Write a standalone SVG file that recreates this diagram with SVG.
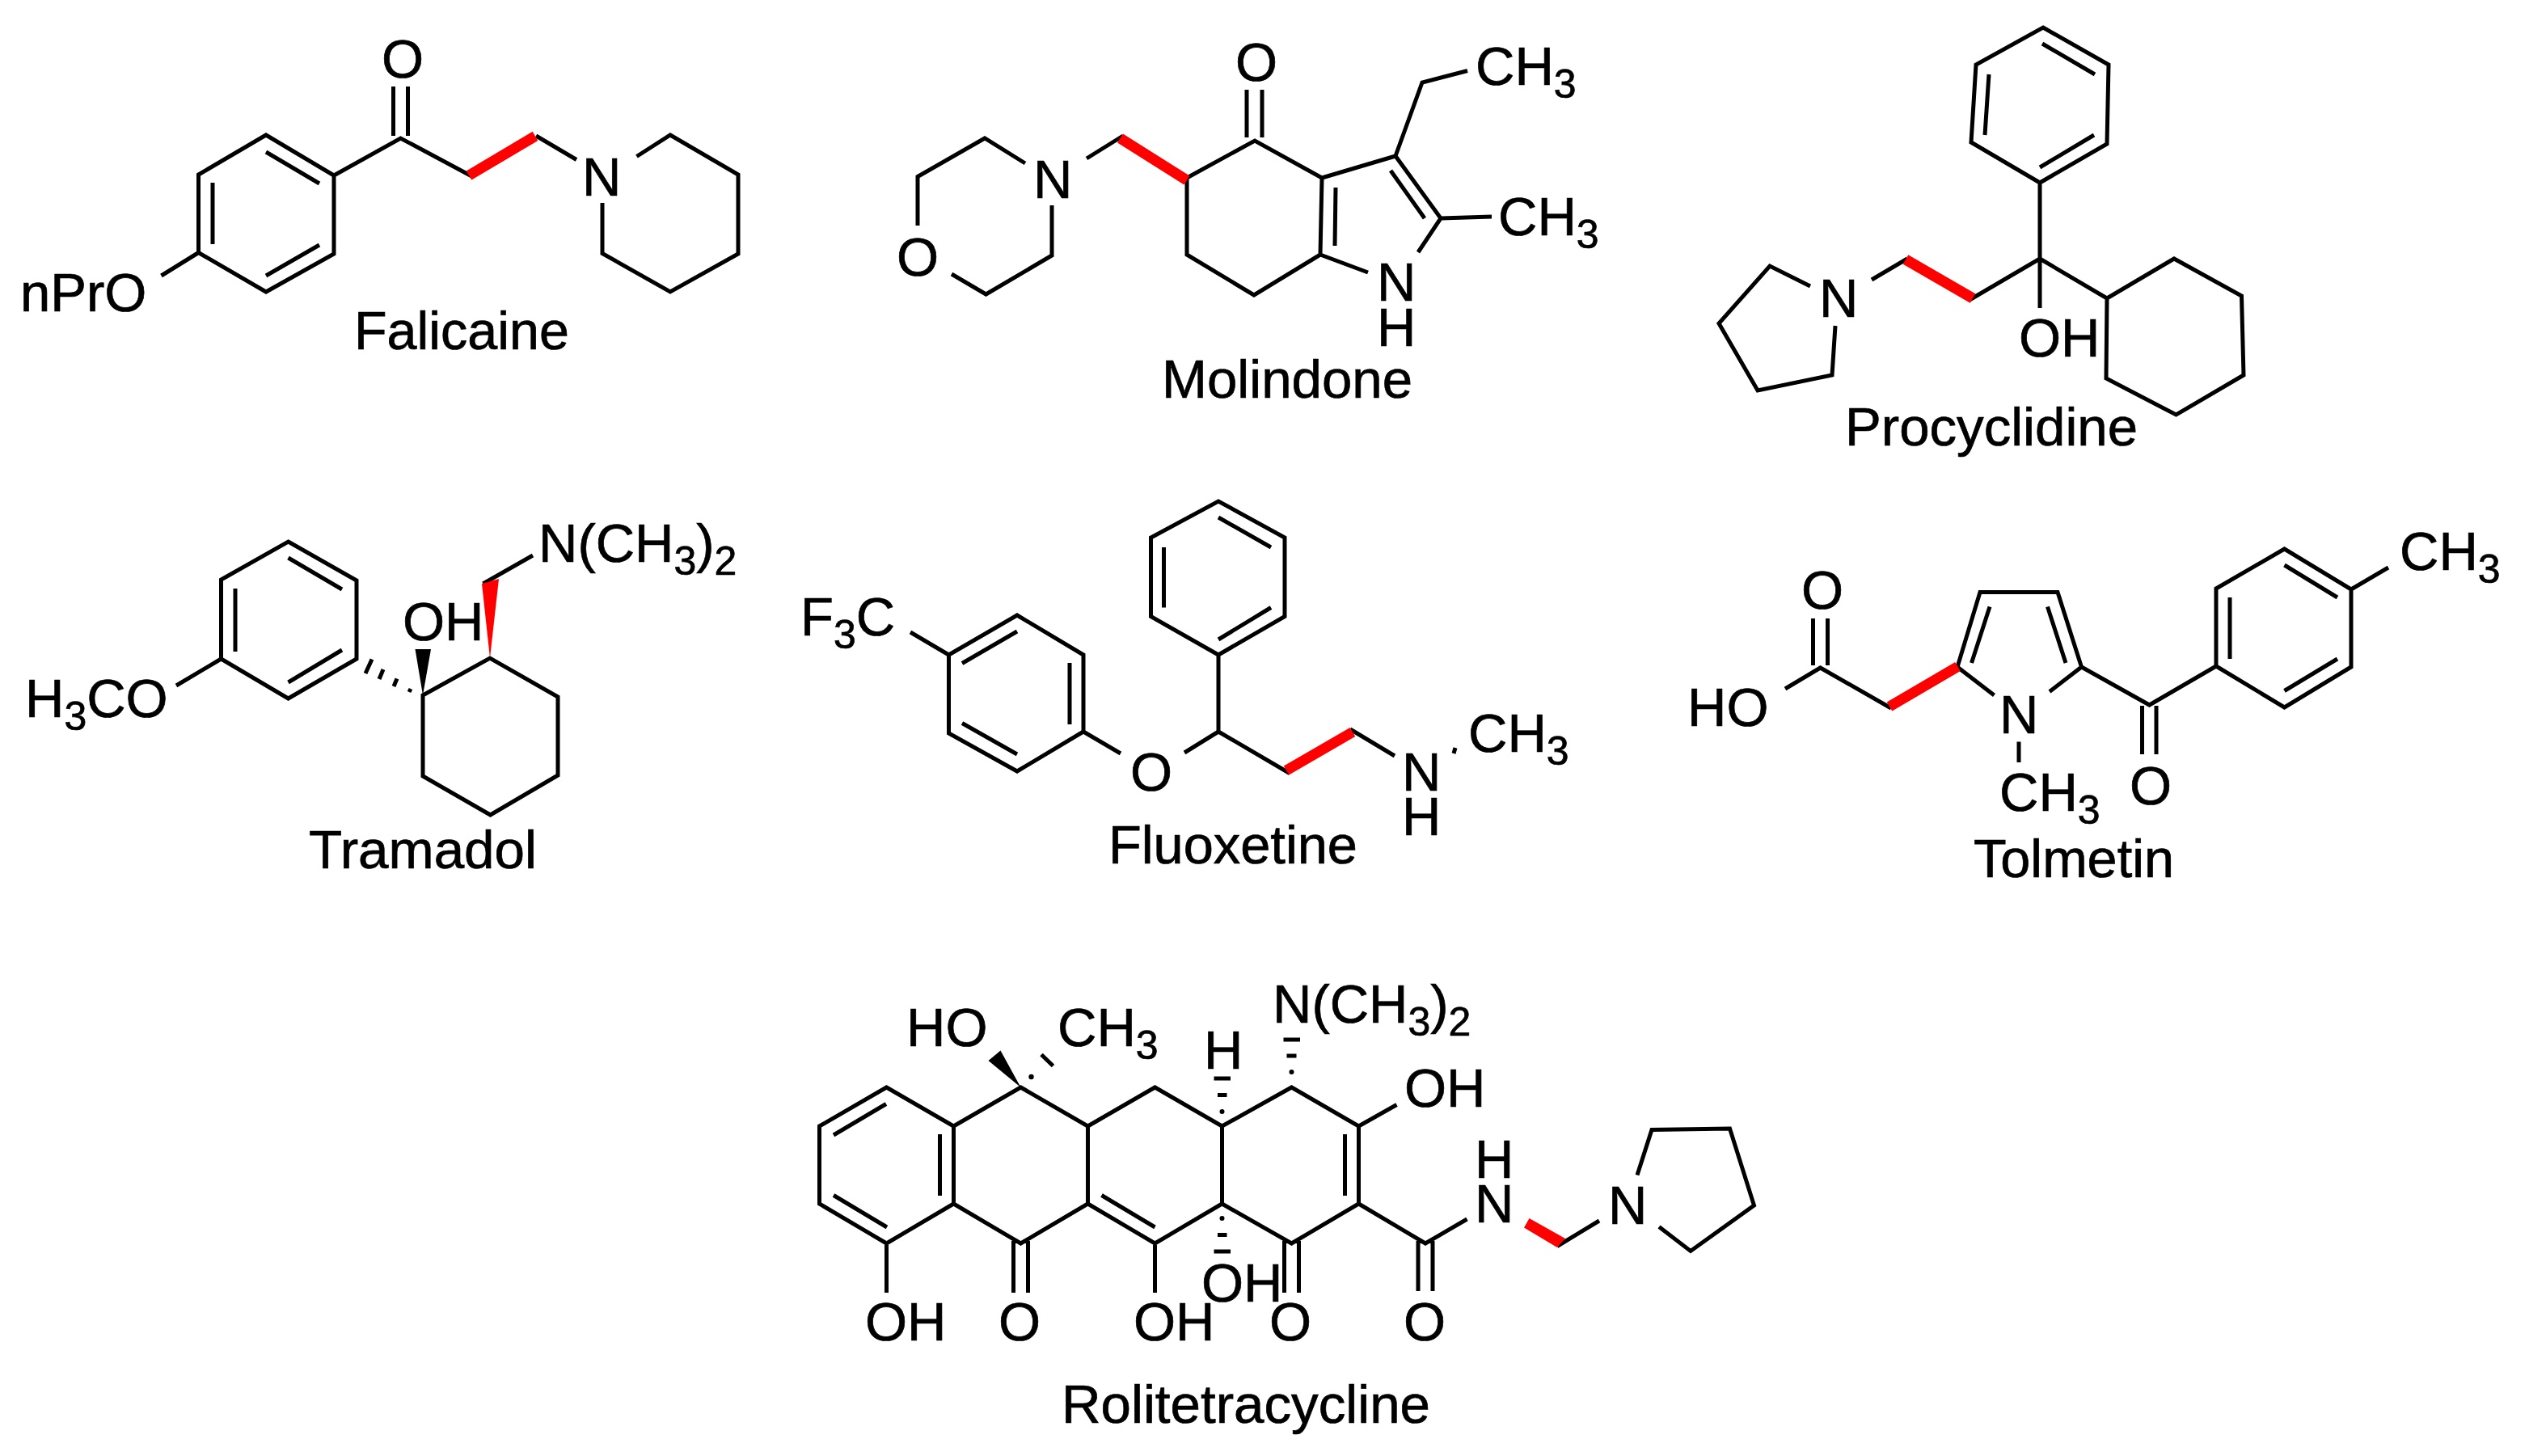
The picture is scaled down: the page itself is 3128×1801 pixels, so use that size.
<svg xmlns="http://www.w3.org/2000/svg" width="3128" height="1801" viewBox="0 0 3128 1801">
<style>
text{font-family:"Liberation Sans",Arial,sans-serif;font-size:67px;fill:#000;stroke:#000;stroke-width:.7}
.n{font-size:66px}
.s{font-size:50px}
.b{fill:none;stroke:#000;stroke-width:5;stroke-linejoin:miter;stroke-linecap:butt}
.r{fill:none;stroke:#f00;stroke-width:13;stroke-linecap:butt}
.rf{fill:#f00;stroke:none}
.k{fill:#000;stroke:none}
</style>
<rect width="3128" height="1801" fill="#fff"/>
<g id="falicaine">
<path class="b" d="M329 167L413 217V314L329 361L245.500 312.500V216ZM329 188L395 227M263 226V302M329 341L395 303M413 217L495.500 171L583.500 218M486.500 107V168M504.500 107V168M663 168L713 197.500M787.500 193.500L829 167L913 216V314L829 361L745 313.500V251M245.500 312.500L199.500 341"/>
<path class="r" d="M580 217L662 168.300"/>
<text x="472" y="96">O</text>
<text x="720" y="242">N</text>
<text x="25" y="385">nPrO</text>
<text class="n" x="438" y="432" textLength="266" lengthAdjust="spacingAndGlyphs">Falicaine</text>
</g>
<g id="molindone">
<path class="b" d="M1135 279V218.500L1218 171L1268 202M1177 339L1219.500 364L1301 316V254M1344 196L1389 168M1468 220L1552 174L1635 220L1633 315L1551 365L1468 315ZM1542 111V170M1561 111V170M1652 232L1651 304M1635 220L1726 193L1782 270L1754 312M1720 211L1762 270M1782 270L1845 268M1633 315L1692 337M1726 193L1759 102L1815 87.500"/>
<path class="r" d="M1385.500 171L1468 223"/>
<text x="1528" y="100">O</text>
<text x="1278" y="245">N</text>
<text x="1109" y="341">O</text>
<text x="1703" y="372">N</text>
<text x="1703" y="428">H</text>
<text x="1825" y="105">CH<tspan class="s" dy="16">3</tspan></text>
<text x="1853" y="291">CH<tspan class="s" dy="16">3</tspan></text>
<text class="n" x="1437" y="492" textLength="310" lengthAdjust="spacingAndGlyphs">Molindone</text>
</g>
<g id="procyclidine">
<path class="b" d="M2527 34L2608 80L2606 178L2523 226L2438 176L2444 80ZM2526 54L2591 92M2460 92L2455 167M2523 207L2590 167M2523 226V381M2523 320L2436 371M2359 320L2315 346M2239 354L2189 329L2126 400L2174 483L2266 464L2270 403M2523 320L2606 369L2689 320L2772.500 366L2775 464L2691.500 513L2605 468L2606 369"/>
<path class="r" d="M2357 321L2440 369"/>
<text x="2250" y="392">N</text>
<text x="2497" y="441">OH</text>
<text class="n" x="2282" y="551" textLength="362" lengthAdjust="spacingAndGlyphs">Procyclidine</text>
</g>
<g id="tramadol">
<path class="b" d="M356.500 670L441 718V815L356.500 864L273.500 815V717ZM356.500 690L423 729M291 728V806M356.500 844L423 804M273.500 815L218 848M523 860L606 814L690 862V959L606.500 1008L523 960ZM597.500 722L659 687M508 852L506 856M491 839.500L487 849M474 828L469 840M460 815.500L452 833"/>
<path class="k" d="M523 860L513.500 803H533Z"/>
<path class="rf" d="M606 814L596 722L617 716Z"/>
<text x="31" y="887">H<tspan class="s" dy="16">3</tspan><tspan dy="-16">CO</tspan></text>
<text x="498" y="792">OH</text>
<text x="666" y="695">N(CH<tspan class="s" dy="16">3</tspan><tspan dy="-16">)</tspan><tspan class="s" dy="16">2</tspan></text>
<text class="n" x="382" y="1074" textLength="282" lengthAdjust="spacingAndGlyphs">Tramadol</text>
</g>
<g id="fluoxetine">
<path class="b" d="M1258 761L1340 810V905L1258 954L1173.500 907V810ZM1258 781L1190 820.500M1323 820V896M1190 894.500L1258 933M1173.500 810L1126 782M1340 905L1386 932M1465 931L1507 905V810M1507 810L1589 762.500V665L1507 620L1423.500 665V762.500ZM1507 640L1572 677M1439.500 677V751.500M1507 791L1572 751.500M1507 905L1595 956.500M1670 902L1725 935M1800 925L1798 932"/>
<path class="r" d="M1591 953L1673 905.500"/>
<text x="990" y="786">F<tspan class="s" dy="16">3</tspan><tspan dy="-16">C</tspan></text>
<text x="1398" y="978">O</text>
<text x="1734" y="978">N</text>
<text x="1734" y="1033">H</text>
<text x="1816" y="930">CH<tspan class="s" dy="16">3</tspan></text>
<text class="n" x="1371" y="1068" textLength="308" lengthAdjust="spacingAndGlyphs">Fluoxetine</text>
</g>
<g id="tolmetin">
<path class="b" d="M2242.500 765V823M2260.500 765V823M2208 852L2251.500 826L2339 876M2466.500 860L2421 825L2449 732.500H2545L2574.500 825L2535 855.500M2461 750.500L2438.500 820M2532.500 750.500L2555 820M2497 917.500V943M2574.500 825L2658.500 872L2741 824M2649.500 873V933M2667 873V933M2741 824V728L2825.500 679L2908 729V825L2825.500 875ZM2758 739V815M2825.500 699L2891 739M2825.500 854.500L2891 815M2908 729L2954 702"/>
<path class="r" d="M2337 874L2421.500 824.500"/>
<text x="2228" y="753">O</text>
<text x="2087" y="898">HO</text>
<text x="2473" y="907">N</text>
<text x="2473" y="1003">CH<tspan class="s" dy="16">3</tspan></text>
<text x="2634" y="995">O</text>
<text x="2968" y="705">CH<tspan class="s" dy="16">3</tspan></text>
<text class="n" x="2441" y="1085" textLength="248" lengthAdjust="spacingAndGlyphs">Tolmetin</text>
</g>
<g id="rolitetracycline">
<path class="b" d="M1096.500 1345L1179.500 1393V1489L1096.500 1538L1013.500 1489V1393ZM1096 1365.500L1031 1404M1162.500 1403V1479M1031 1478.500L1097 1518M1179.500 1393L1262.500 1345L1345.500 1393V1489L1262.500 1538L1179.500 1489M1345.500 1393L1428.500 1345L1511.500 1393V1489L1428.500 1538L1345.500 1489M1362.500 1478.500L1428.500 1518M1511.500 1393L1597.500 1345L1680.500 1393V1489L1597.500 1538L1511.500 1489M1663.500 1403V1479M1096.500 1538V1599M1253.500 1535V1599M1271.500 1535V1599M1428.500 1538V1599M1588.500 1535V1599M1606.500 1535V1599M1680.500 1393L1727.500 1366.500M1680.500 1489L1763 1538L1814.500 1508M1754 1535V1597M1772 1535V1597M1926 1541.500L1978 1510M2025 1453.500L2043 1397.500L2139.500 1396L2169.500 1491L2091 1547.500L2052 1517.500M1506 1527.500H1517.500M1501.500 1548H1522M1506 1354.500H1517.500M1501.500 1334H1522M1591.500 1306H1603.500M1587.500 1286H1608M1288 1304.500L1302.500 1318.500"/>
<path class="k" d="M1262.500 1345L1237.500 1299.500L1222.500 1312Z"/>
<circle class="k" cx="1275.500" cy="1332" r="3.200"/>
<circle class="k" cx="1511.500" cy="1507" r="3"/>
<circle class="k" cx="1511.500" cy="1375" r="3"/>
<circle class="k" cx="1597.500" cy="1326" r="3"/>
<path class="rf" d="M1891.500 1507L1885 1518.500L1926 1543L1936 1532Z"/>
<text x="1121" y="1294">HO</text>
<text x="1308" y="1294">CH<tspan class="s" dy="16">3</tspan></text>
<text x="1489" y="1322">H</text>
<text x="1574" y="1265">N(CH<tspan class="s" dy="16">3</tspan><tspan dy="-16">)</tspan><tspan class="s" dy="16">2</tspan></text>
<text x="1737" y="1369">OH</text>
<text x="1070" y="1658">OH</text>
<text x="1235" y="1658">O</text>
<text x="1402" y="1658">OH</text>
<text x="1486" y="1610">OH</text>
<text x="1570" y="1658">O</text>
<text x="1736" y="1658">O</text>
<text x="1824" y="1457">H</text>
<text x="1824" y="1512">N</text>
<text x="1989" y="1514">N</text>
<text class="n" x="1313" y="1760" textLength="456" lengthAdjust="spacingAndGlyphs">Rolitetracycline</text>
</g>
</svg>
